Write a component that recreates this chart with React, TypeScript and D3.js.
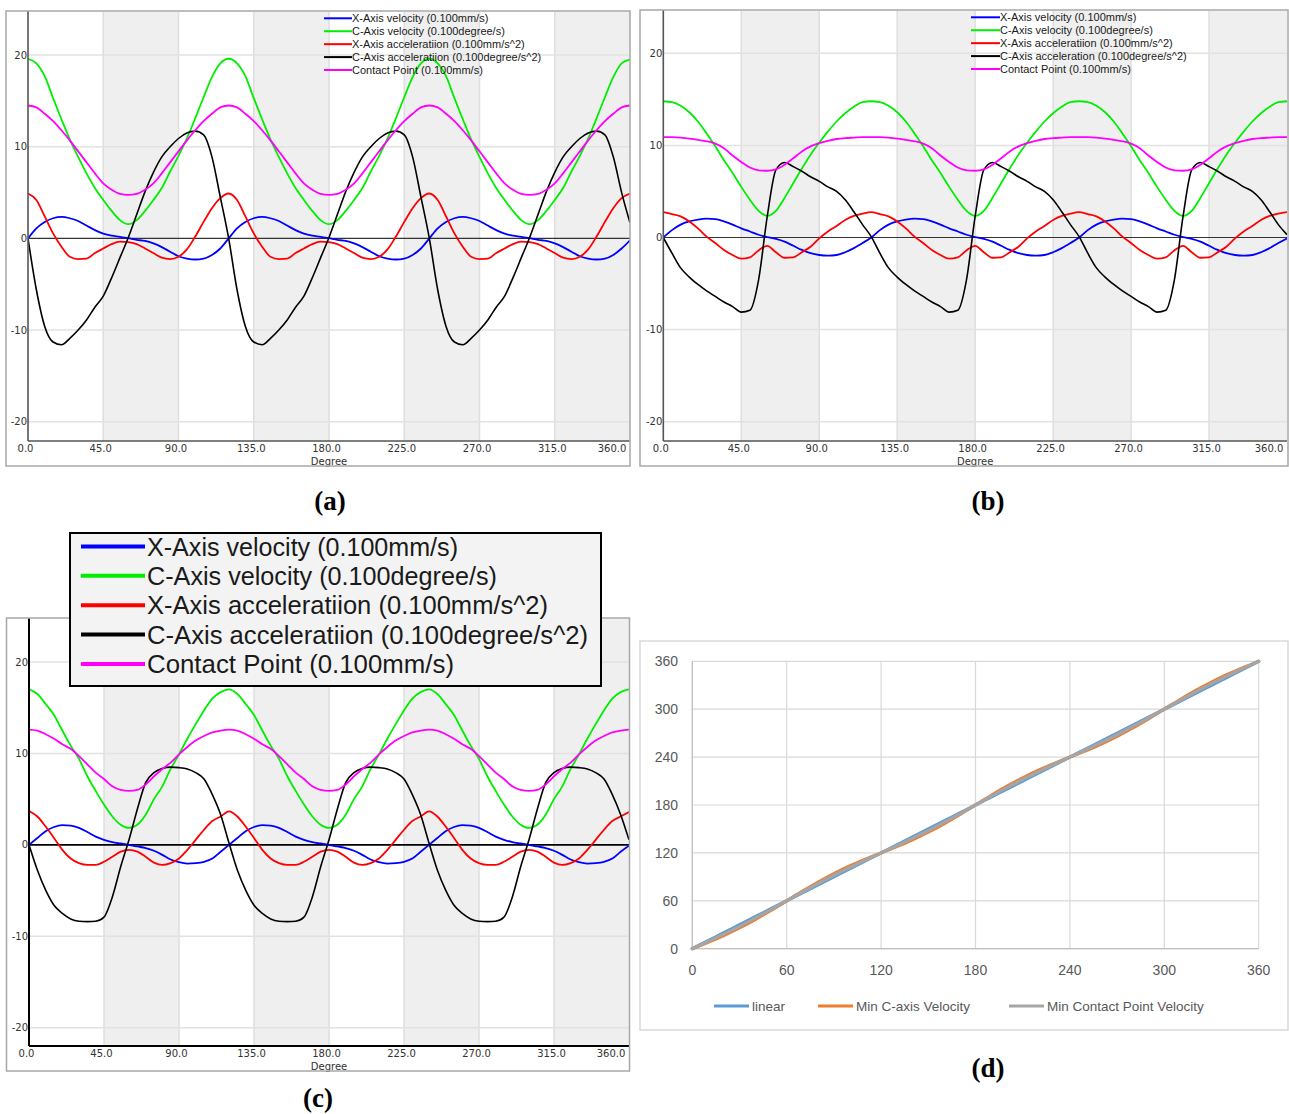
import React from "react";
import * as d3 from "d3";

// sample positions (degrees) for the three scope plots, and for plot (d)
const degrees = d3.range(0, 361, 5);
const degreesD = d3.range(0, 361, 10);

const seriesNames = [
  "X-Axis velocity (0.100mm/s)",
  "C-Axis velocity (0.100degree/s)",
  "X-Axis acceleratiion (0.100mm/s^2)",
  "C-Axis acceleratiion (0.100degree/s^2)",
  "Contact Point (0.100mm/s)",
];
const seriesNamesB = [
  "X-Axis velocity (0.100mm/s)",
  "C-Axis velocity (0.100degree/s)",
  "X-Axis acceleratiion (0.100mm/s^2)",
  "C-Axis acceleration (0.100degree/s^2)",
  "Contact Point (0.100mm/s)",
];
const seriesColors = ["#0000ff", "#00ee00", "#ff0000", "#000000", "#ff00ff"];

const yTicks = [20, 10, 0, -10, -20];
const xTicks = [0, 45, 90, 135, 180, 225, 270, 315, 360];
const xTickLabels = ["0.0", "45.0", "90.0", "135.0", "180.0", "225.0", "270.0", "315.0", "360.0"];

// ---- (a)
const aXVel = [
  0, 1.1, 1.8, 2.2, 2.35, 2.2, 1.9, 1.4, 0.9, 0.52, 0.3, 0.18, 0.02, -0.15, -0.28, -0.55, -0.95, -1.45, -1.95, -2.2, -2.3, -2.2, -1.8, -1.1, 0,
  1.1, 1.8, 2.2, 2.35, 2.2, 1.9, 1.4, 0.9, 0.52, 0.3, 0.18, 0.02, -0.15, -0.28, -0.55, -0.95, -1.45, -1.95, -2.2, -2.3, -2.2, -1.8, -1.1, 0,
  1.1, 1.8, 2.2, 2.35, 2.2, 1.9, 1.4, 0.9, 0.52, 0.3, 0.18, 0.02, -0.15, -0.28, -0.55, -0.95, -1.45, -1.95, -2.2, -2.3, -2.2, -1.8, -1.1, -0.2,
];
const aCVel = [
  19.6, 19.1, 17.7, 15.3, 13.0, 10.8, 8.9, 7.1, 5.5, 4.2, 3.0, 2.0, 1.55, 2.0, 3.0, 4.2, 5.5, 7.3, 9.0, 10.9, 13.1, 15.4, 17.6, 19.1, 19.6,
  19.1, 17.7, 15.3, 13.0, 10.8, 8.9, 7.1, 5.5, 4.2, 3.0, 2.0, 1.55, 2.0, 3.0, 4.2, 5.5, 7.3, 9.0, 10.9, 13.1, 15.4, 17.6, 19.1, 19.6,
  19.1, 17.7, 15.3, 13.0, 10.8, 8.9, 7.1, 5.5, 4.2, 3.0, 2.0, 1.55, 2.0, 3.0, 4.2, 5.5, 7.3, 9.0, 10.9, 13.1, 15.4, 17.6, 19.1, 19.5,
];
const aXAcc = [
  4.9, 4.2, 2.4, 0.55, -0.9, -2.0, -2.25, -2.2, -1.6, -1.1, -0.62, -0.36, -0.4, -0.62, -1.1, -1.6, -2.1, -2.25, -2.0, -1.2, 0.2, 1.8, 3.3, 4.4, 4.9,
  4.2, 2.4, 0.55, -0.9, -2.0, -2.25, -2.2, -1.6, -1.1, -0.62, -0.36, -0.4, -0.62, -1.1, -1.6, -2.1, -2.25, -2.0, -1.2, 0.2, 1.8, 3.3, 4.4, 4.9,
  4.2, 2.4, 0.55, -0.9, -2.0, -2.25, -2.2, -1.6, -1.1, -0.62, -0.36, -0.4, -0.62, -1.1, -1.6, -2.1, -2.25, -2.0, -1.2, 0.2, 1.8, 3.3, 4.4, 4.9,
];
const aCAcc = [
  0, -5.6, -9.6, -11.3, -11.6, -10.9, -10.0, -8.9, -7.5, -6.3, -4.3, -2.1, 0.1, 2.6, 5.1, 7.2, 8.9, 10.0, 10.9, 11.5, 11.7, 11.3, 8.9, 4.5, 0,
  -5.6, -9.6, -11.3, -11.6, -10.9, -10.0, -8.9, -7.5, -6.3, -4.3, -2.1, 0.1, 2.6, 5.1, 7.2, 8.9, 10.0, 10.9, 11.5, 11.7, 11.3, 8.9, 4.5, 0,
  -5.6, -9.6, -11.3, -11.6, -10.9, -10.0, -8.9, -7.5, -6.3, -4.3, -2.1, 0.1, 2.6, 5.1, 7.2, 8.9, 10.0, 10.9, 11.5, 11.7, 11.3, 8.9, 5.0, 1.7,
];
const aContact = [
  14.5, 14.3, 13.6, 12.8, 11.8, 10.7, 9.5, 8.3, 7.1, 6.0, 5.3, 4.85, 4.75, 4.85, 5.3, 6.0, 7.1, 8.3, 9.5, 10.7, 11.8, 12.8, 13.6, 14.3, 14.5,
  14.3, 13.6, 12.8, 11.8, 10.7, 9.5, 8.3, 7.1, 6.0, 5.3, 4.85, 4.75, 4.85, 5.3, 6.0, 7.1, 8.3, 9.5, 10.7, 11.8, 12.8, 13.6, 14.3, 14.5,
  14.3, 13.6, 12.8, 11.8, 10.7, 9.5, 8.3, 7.1, 6.0, 5.3, 4.85, 4.75, 4.85, 5.3, 6.0, 7.1, 8.3, 9.5, 10.7, 11.8, 12.8, 13.6, 14.3, 14.5,
];

// ---- (b)
const bXVel = [
  0, 0.8, 1.4, 1.75, 1.95, 2.05, 2.0, 1.75, 1.4, 1.0, 0.65, 0.3, 0.05, -0.15, -0.45, -0.9, -1.35, -1.7, -1.9, -1.97, -1.9, -1.6, -1.15, -0.6, 0,
  0.8, 1.4, 1.75, 1.95, 2.05, 2.0, 1.75, 1.4, 1.0, 0.65, 0.3, 0.05, -0.15, -0.45, -0.9, -1.35, -1.7, -1.9, -1.97, -1.9, -1.6, -1.15, -0.6, 0,
  0.8, 1.4, 1.75, 1.95, 2.05, 2.0, 1.75, 1.4, 1.0, 0.65, 0.3, 0.05, -0.15, -0.45, -0.9, -1.35, -1.7, -1.9, -1.97, -1.9, -1.6, -1.15, -0.6, -0.1,
];
const bCVel = [
  14.8, 14.7, 14.3, 13.6, 12.6, 11.3, 9.9, 8.4, 7.0, 5.5, 4.1, 2.9, 2.35, 2.9, 4.3, 5.9, 7.5, 9.0, 10.3, 11.5, 12.6, 13.5, 14.2, 14.7, 14.8,
  14.7, 14.3, 13.6, 12.6, 11.3, 9.9, 8.4, 7.0, 5.5, 4.1, 2.9, 2.35, 2.9, 4.3, 5.9, 7.5, 9.0, 10.3, 11.5, 12.6, 13.5, 14.2, 14.7, 14.8,
  14.7, 14.3, 13.6, 12.6, 11.3, 9.9, 8.4, 7.0, 5.5, 4.1, 2.9, 2.35, 2.9, 4.3, 5.9, 7.5, 9.0, 10.3, 11.5, 12.6, 13.5, 14.2, 14.7, 14.8,
];
const bXAcc = [
  2.75, 2.55, 2.3, 1.75, 1.0, 0.1, -0.6, -1.35, -1.9, -2.3, -2.15, -1.4, -0.9, -1.6, -2.2, -2.15, -1.6, -1.0, -0.1, 0.65, 1.25, 1.9, 2.35, 2.6, 2.75,
  2.55, 2.3, 1.75, 1.0, 0.1, -0.6, -1.35, -1.9, -2.3, -2.15, -1.4, -0.9, -1.6, -2.2, -2.15, -1.6, -1.0, -0.1, 0.65, 1.25, 1.9, 2.35, 2.6, 2.75,
  2.55, 2.3, 1.75, 1.0, 0.1, -0.6, -1.35, -1.9, -2.3, -2.15, -1.4, -0.9, -1.6, -2.2, -2.15, -1.6, -1.0, -0.1, 0.65, 1.25, 1.9, 2.35, 2.6, 2.75,
];
const bCAcc = [
  0, -1.7, -3.3, -4.3, -5.1, -5.8, -6.4, -7.0, -7.5, -8.1, -7.9, -4.6, 2.3, 7.35, 8.15, 7.7, 7.2, 6.6, 6.1, 5.5, 5.0, 4.1, 2.8, 1.4, 0.1,
  -1.7, -3.3, -4.3, -5.1, -5.8, -6.4, -7.0, -7.5, -8.1, -7.9, -4.6, 2.3, 7.35, 8.15, 7.7, 7.2, 6.6, 6.1, 5.5, 5.0, 4.1, 2.8, 1.4, 0.1,
  -1.7, -3.3, -4.3, -5.1, -5.8, -6.4, -7.0, -7.5, -8.1, -7.9, -4.6, 2.3, 7.35, 8.15, 7.7, 7.2, 6.6, 6.1, 5.5, 5.0, 4.1, 2.8, 1.4, 0.3,
];
const bContact = [
  10.9, 10.9, 10.85, 10.75, 10.6, 10.45, 10.2, 9.7, 8.9, 8.2, 7.6, 7.3, 7.25, 7.4, 7.9, 8.6, 9.35, 9.9, 10.25, 10.5, 10.7, 10.8, 10.85, 10.9, 10.9,
  10.9, 10.85, 10.75, 10.6, 10.45, 10.2, 9.7, 8.9, 8.2, 7.6, 7.3, 7.25, 7.4, 7.9, 8.6, 9.35, 9.9, 10.25, 10.5, 10.7, 10.8, 10.85, 10.9, 10.9,
  10.9, 10.85, 10.75, 10.6, 10.45, 10.2, 9.7, 8.9, 8.2, 7.6, 7.3, 7.25, 7.4, 7.9, 8.6, 9.35, 9.9, 10.25, 10.5, 10.7, 10.8, 10.85, 10.9, 10.9,
];

// ---- (c)
const cXVel = [
  0, 0.75, 1.5, 1.95, 2.15, 2.1, 1.85, 1.4, 0.9, 0.55, 0.3, 0.15, 0, -0.18, -0.35, -0.65, -1.1, -1.6, -1.9, -2.05, -2.0, -1.85, -1.5, -0.75, 0,
  0.75, 1.5, 1.95, 2.15, 2.1, 1.85, 1.4, 0.9, 0.55, 0.3, 0.15, 0, -0.18, -0.35, -0.65, -1.1, -1.6, -1.9, -2.05, -2.0, -1.85, -1.5, -0.75, 0,
  0.75, 1.5, 1.95, 2.15, 2.1, 1.85, 1.4, 0.9, 0.55, 0.3, 0.15, 0, -0.18, -0.35, -0.65, -1.1, -1.6, -1.9, -2.05, -2.0, -1.85, -1.5, -0.75, -0.1,
];
const cCVel = [
  17.0, 16.5, 15.4, 14.2, 12.5, 10.85, 9.4, 7.5, 5.9, 4.4, 3.1, 2.2, 1.85, 2.2, 3.3, 5.0, 6.4, 8.3, 9.9, 11.6, 13.2, 14.7, 16.0, 16.7, 17.0,
  16.5, 15.4, 14.2, 12.5, 10.85, 9.4, 7.5, 5.9, 4.4, 3.1, 2.2, 1.85, 2.2, 3.3, 5.0, 6.4, 8.3, 9.9, 11.6, 13.2, 14.7, 16.0, 16.7, 17.0,
  16.5, 15.4, 14.2, 12.5, 10.85, 9.4, 7.5, 5.9, 4.4, 3.1, 2.2, 1.85, 2.2, 3.3, 5.0, 6.4, 8.3, 9.9, 11.6, 13.2, 14.7, 16.0, 16.7, 17.0,
];
const cXAcc = [
  3.7, 3.1, 2.0, 0.75, -0.55, -1.5, -2.0, -2.2, -2.2, -1.85, -1.3, -0.75, -0.55, -0.75, -1.3, -1.95, -2.2, -2.0, -1.5, -0.55, 0.55, 1.65, 2.6, 3.1, 3.65,
  3.1, 2.0, 0.75, -0.55, -1.5, -2.0, -2.2, -2.2, -1.85, -1.3, -0.75, -0.55, -0.75, -1.3, -1.95, -2.2, -2.0, -1.5, -0.55, 0.55, 1.65, 2.6, 3.1, 3.65,
  3.1, 2.0, 0.75, -0.55, -1.5, -2.0, -2.2, -2.2, -1.85, -1.3, -0.75, -0.55, -0.75, -1.3, -1.95, -2.2, -2.0, -1.5, -0.55, 0.55, 1.65, 2.6, 3.1, 3.6,
];
const cCAcc = [
  0, -2.75, -4.95, -6.6, -7.5, -8.1, -8.35, -8.4, -8.35, -7.9, -5.7, -2.4, 0.55, 3.9, 6.8, 7.9, 8.35, 8.5, 8.45, 8.3, 7.9, 7.2, 5.5, 3.3, 0.2,
  -2.75, -4.95, -6.6, -7.5, -8.1, -8.35, -8.4, -8.35, -7.9, -5.7, -2.4, 0.55, 3.9, 6.8, 7.9, 8.35, 8.5, 8.45, 8.3, 7.9, 7.2, 5.5, 3.3, 0.2,
  -2.75, -4.95, -6.6, -7.5, -8.1, -8.35, -8.4, -8.35, -7.9, -5.7, -2.4, 0.55, 3.9, 6.8, 7.9, 8.35, 8.5, 8.45, 8.3, 7.9, 7.2, 5.5, 3.3, 0.55,
];
const cContact = [
  12.6, 12.5, 12.1, 11.6, 11.0, 10.5, 9.7, 8.8, 7.9, 7.2, 6.4, 6.0, 5.9, 6.0, 6.6, 7.5, 8.3, 9.0, 9.9, 10.7, 11.4, 11.9, 12.3, 12.5, 12.6,
  12.5, 12.1, 11.6, 11.0, 10.5, 9.7, 8.8, 7.9, 7.2, 6.4, 6.0, 5.9, 6.0, 6.6, 7.5, 8.3, 9.0, 9.9, 10.7, 11.4, 11.9, 12.3, 12.5, 12.6,
  12.5, 12.1, 11.6, 11.0, 10.5, 9.7, 8.8, 7.9, 7.2, 6.4, 6.0, 5.9, 6.0, 6.6, 7.5, 8.3, 9.0, 9.9, 10.7, 11.4, 11.9, 12.3, 12.5, 12.6,
];

// ---- (d)
const dLinear = [0, 10, 20, 30, 40, 50, 60, 70, 80, 90, 100, 110, 120, 130, 140, 150, 160, 170, 180, 190, 200, 210, 220, 230, 240, 250, 260, 270, 280, 290, 300, 310, 320, 330, 340, 350, 360];
const dMinCVel = [0, 8, 16.5, 26, 36.5, 48, 60, 72, 83.5, 94, 103.5, 112, 120, 128, 136.5, 146, 156.5, 168, 180, 192, 203.5, 214, 223.5, 232, 240, 248, 256.5, 266, 276.5, 288, 300, 312, 323.5, 334, 343.5, 352, 360];
const dMinContact = [0, 9, 18.3, 28, 38.3, 49, 60, 71, 81.7, 92, 101.7, 111, 120, 129, 138.3, 148, 158.3, 169, 180, 191, 201.7, 212, 221.7, 231, 240, 249, 258.3, 268, 278.3, 289, 300, 311, 321.7, 332, 341.7, 351, 360];
const dNames = ["linear", "Min C-axis Velocity", "Min Contact Point Velocity"];
const dColors = ["#5b9bd5", "#ed7d31", "#a5a5a5"];
const dTicks = [0, 60, 120, 180, 240, 300, 360];

const tickFont = "'DejaVu Sans', sans-serif";
const legendFont = "'Liberation Sans', Arial, sans-serif";

function ScopePanel(props: any) {
  const { id, frame, plot, yDom, data, names, legend, dark } = props;
  const x = d3.scaleLinear().domain([0, 360]).range([plot.l, plot.r]);
  const y = d3.scaleLinear().domain(yDom).range([plot.b, plot.t]);
  const line = d3
    .line<number>()
    .x((_, i) => x(degrees[i]))
    .y((v) => y(v))
    .curve(d3.curveMonotoneX);
  const bands = [45, 135, 225, 315];
  const axisColor = dark ? "#000" : "#555";
  return (
    <g>
      <rect x={frame.x0} y={frame.y0} width={frame.x1 - frame.x0} height={frame.y1 - frame.y0} fill="#fff" />
      <clipPath id={id}>
        <rect x={plot.l} y={plot.t} width={plot.r - plot.l} height={plot.b - plot.t} />
      </clipPath>
      {bands.map((b) => (
        <rect key={b} x={x(b)} y={plot.t} width={x(b + 45) - x(b)} height={plot.b - plot.t} fill="#efefef" />
      ))}
      {xTicks.slice(1, 8).map((t) => (
        <line key={t} x1={x(t)} x2={x(t)} y1={plot.t} y2={plot.b} stroke="#dedede" strokeWidth={1.5} />
      ))}
      {yTicks.filter((t) => t !== 0).map((t) => (
        <line key={t} x1={plot.l} x2={plot.r} y1={y(t)} y2={y(t)} stroke="#e2e2e2" strokeWidth={1.5} />
      ))}
      <line x1={plot.l} x2={plot.r} y1={y(0)} y2={y(0)} stroke={dark ? "#000" : "#333"} strokeWidth={dark ? 1.8 : 1.2} />
      <g clipPath={`url(#${id})`}>
        {data.map((vals: number[], i: number) => (
          <path key={i} d={line(vals) || ""} fill="none" stroke={seriesColors[i]} strokeWidth={i === 3 ? 1.6 : 1.8} />
        ))}
      </g>
      <line x1={plot.l} x2={plot.l} y1={frame.y0} y2={plot.b} stroke={axisColor} strokeWidth={dark ? 2 : 1.6} />
      <line x1={plot.l} x2={plot.r} y1={plot.b} y2={plot.b} stroke={axisColor} strokeWidth={dark ? 2 : 1.6} />
      {yTicks.map((t) => (
        <text key={t} x={plot.l - 1} y={y(t) + 3.6} textAnchor="end" fontFamily={tickFont} fontSize={10} fill="#333">
          {t}
        </text>
      ))}
      {xTicks.map((t, i) => (
        <text
          key={t}
          x={t === 360 ? x(t) - 18 : x(t) - 2.5}
          y={plot.b + 11}
          textAnchor="middle"
          fontFamily={tickFont}
          fontSize={10}
          fill="#333"
        >
          {xTickLabels[i]}
        </text>
      ))}
      <text x={(plot.l + plot.r) / 2} y={frame.y1 - 1.5} textAnchor="middle" fontFamily={tickFont} fontSize={10} fill="#333">
        Degree
      </text>
      <rect
        x={frame.x0}
        y={frame.y0}
        width={frame.x1 - frame.x0}
        height={frame.y1 - frame.y0}
        fill="none"
        stroke="#a8a8a8"
        strokeWidth={1.5}
      />
      {legend.box && (
        <rect
          x={legend.box.x0}
          y={legend.box.y0}
          width={legend.box.x1 - legend.box.x0}
          height={legend.box.y1 - legend.box.y0}
          fill="#f3f3f3"
          stroke="#000"
          strokeWidth={2}
        />
      )}
      {names.map((n: string, i: number) => {
        const cy = legend.y0 + i * legend.dy;
        const fit = legend.widths ? { textLength: legend.widths[i], lengthAdjust: "spacingAndGlyphs" } : {};
        return (
          <g key={n}>
            <line x1={legend.lx0} x2={legend.lx1} y1={cy} y2={cy} stroke={seriesColors[i]} strokeWidth={legend.lw} />
            <text
              x={legend.lx1 + (legend.gap || 0)}
              y={cy + legend.fs * 0.36}
              fontFamily={legendFont}
              fontSize={legend.fs}
              fill="#1a1a1a"
              {...fit}
            >
              {n}
            </text>
          </g>
        );
      })}
    </g>
  );
}

function PanelD() {
  const x = d3.scaleLinear().domain([0, 360]).range([692.3, 1258.7]);
  const y = d3.scaleLinear().domain([0, 360]).range([948.7, 661.3]);
  const line = d3
    .line<number>()
    .x((_, i) => x(degreesD[i]))
    .y((v) => y(v))
    .curve(d3.curveMonotoneX);
  const series = [dLinear, dMinCVel, dMinContact];
  const legendX = [714, 818, 1009];
  return (
    <g>
      <rect x={640} y={641} width={648} height={389} fill="#fff" stroke="#d9d9d9" strokeWidth={1.5} />
      {dTicks.map((t) => (
        <g key={t}>
          <line x1={x(t)} x2={x(t)} y1={y(360)} y2={y(0)} stroke="#d9d9d9" strokeWidth={1.2} />
          <line x1={x(0)} x2={x(360)} y1={y(t)} y2={y(t)} stroke="#d9d9d9" strokeWidth={1.2} />
          <text x={678} y={y(t) + 5} textAnchor="end" fontFamily={legendFont} fontSize={14} fill="#595959">
            {t}
          </text>
          <text x={x(t)} y={975} textAnchor="middle" fontFamily={legendFont} fontSize={14} fill="#595959">
            {t}
          </text>
        </g>
      ))}
      <line x1={x(0)} x2={x(0)} y1={y(360)} y2={y(0)} stroke="#bfbfbf" strokeWidth={1.2} />
      <line x1={x(0)} x2={x(360)} y1={y(0)} y2={y(0)} stroke="#bfbfbf" strokeWidth={1.2} />
      {series.map((vals, i) => (
        <path key={i} d={line(vals) || ""} fill="none" stroke={dColors[i]} strokeWidth={3.2} strokeLinecap="round" />
      ))}
      {dNames.map((n, i) => (
        <g key={n}>
          <line x1={legendX[i]} x2={legendX[i] + 35} y1={1006} y2={1006} stroke={dColors[i]} strokeWidth={2.8} />
          <text x={legendX[i] + 38} y={1011} fontFamily={legendFont} fontSize={13.5} fill="#595959">
            {n}
          </text>
        </g>
      ))}
    </g>
  );
}

export default function App() {
  const smallLegendA = { lx0: 324, lx1: 352, y0: 18.3, dy: 12.93, fs: 11, lw: 2 };
  const smallLegendB = { lx0: 971, lx1: 1000, y0: 17.3, dy: 12.93, fs: 11, lw: 2 };
  const bigLegendC = {
    lx0: 81,
    lx1: 145,
    gap: 2,
    y0: 546.5,
    dy: 29.35,
    fs: 25,
    lw: 4,
    widths: [311, 350, 401, 441, 307],
    box: { x0: 70, y0: 533, x1: 601, y1: 686 },
  };
  const captionFont = "'Liberation Serif', 'Times New Roman', serif";
  return (
    <svg
      width={1289}
      height={1114}
      style={{ position: "absolute", left: 0, top: 0, background: "#fff" }}
    >
      <rect x={0} y={0} width={1289} height={1114} fill="#fff" />
      <ScopePanel
        id="clipA"
        frame={{ x0: 6, y0: 11, x1: 630, y1: 466 }}
        plot={{ l: 28, r: 630, t: 12, b: 441 }}
        yDom={[-22.1, 24.7]}
        data={[aXVel, aCVel, aXAcc, aCAcc, aContact]}
        names={seriesNames}
        legend={smallLegendA}
        dark={false}
      />
      <ScopePanel
        id="clipB"
        frame={{ x0: 640, y0: 10, x1: 1288, y1: 466 }}
        plot={{ l: 663.3, r: 1287, t: 11, b: 441 }}
        yDom={[-22.1, 24.6]}
        data={[bXVel, bCVel, bXAcc, bCAcc, bContact]}
        names={seriesNamesB}
        legend={smallLegendB}
        dark={false}
      />
      <ScopePanel
        id="clipC"
        frame={{ x0: 6.5, y0: 618, x1: 629.5, y1: 1071 }}
        plot={{ l: 29, r: 629, t: 619, b: 1046 }}
        yDom={[-22.0, 24.7]}
        data={[cXVel, cCVel, cXAcc, cCAcc, cContact]}
        names={seriesNames}
        legend={bigLegendC}
        dark={true}
      />
      <PanelD />
      <g fontFamily={captionFont} fontWeight="bold" fontSize={27} textAnchor="middle" fill="#000">
        <text x={330} y={510}>(a)</text>
        <text x={988} y={510}>(b)</text>
        <text x={318} y={1107}>(c)</text>
        <text x={988} y={1077}>(d)</text>
      </g>
    </svg>
  );
}
